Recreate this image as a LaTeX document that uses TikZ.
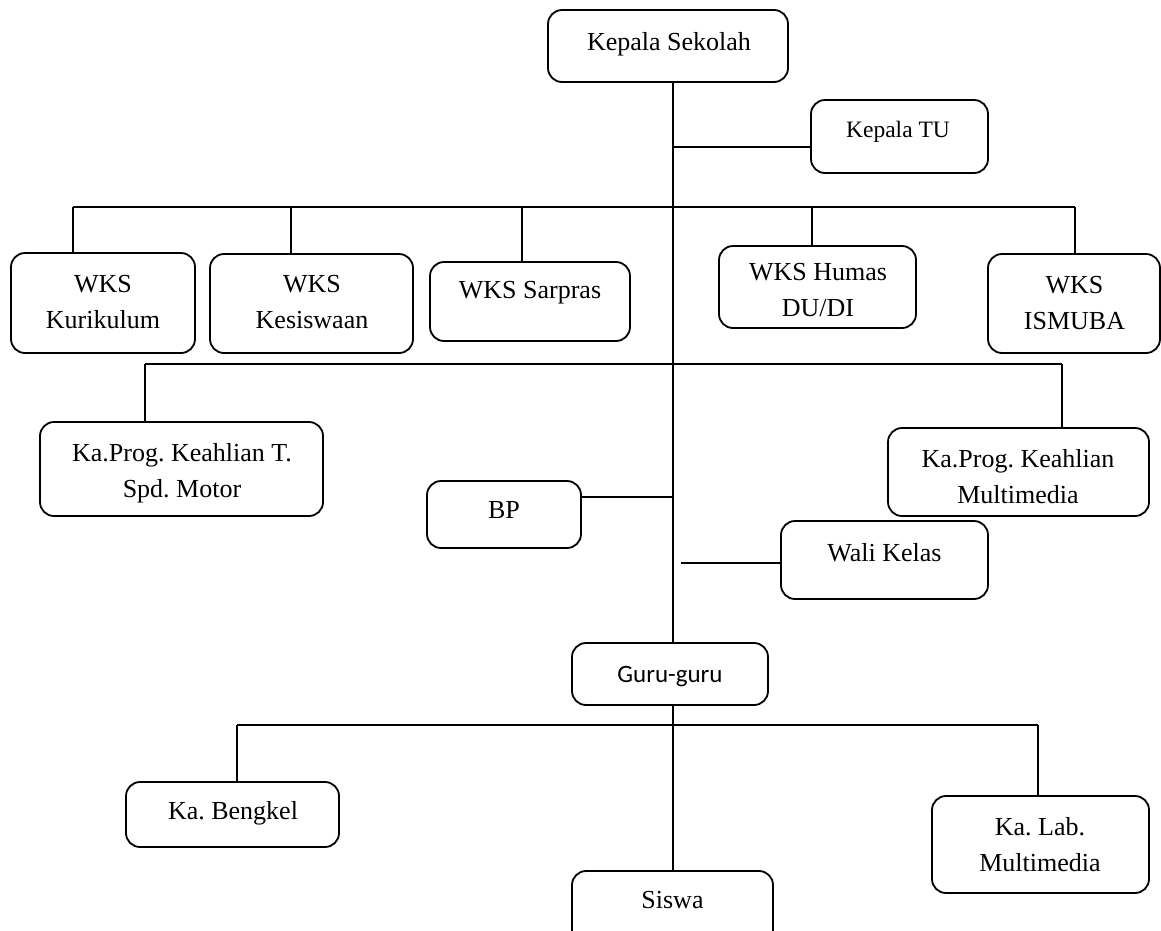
\documentclass[tikz,border=0pt]{standalone}
\usepackage{fontspec}
\setmainfont{Liberation Serif}
\newfontfamily\carlitofont{Carlito}
\frenchspacing
\begin{document}
\begin{tikzpicture}[x=1pt,y=-1pt,
  box/.style={draw, rounded corners=14pt, line width=1.8pt, inner sep=0pt},
  txt/.style={align=center, inner sep=0pt, font=\frenchspacing\fontsize{26}{36}\selectfont},
  smalltxt/.style={align=center, inner sep=0pt, font=\fontsize{23.5}{30}\selectfont},
  sanstxt/.style={align=center, inner sep=0pt, font=\carlitofont\fontsize{25}{30}\selectfont},
  conn/.style={line width=1.8pt}]
\useasboundingbox (0,0) rectangle (1161,930);
\clip (0,0) rectangle (1161,930);
% boxes
\node[box, minimum width=240pt, minimum height=72pt] (ks) at (668,46) {};
\node[box, minimum width=177pt, minimum height=73pt] (tu) at (899.5,136.5) {};
\node[box, minimum width=184pt, minimum height=100pt] (kur) at (103,303) {};
\node[box, minimum width=203pt, minimum height=99pt] (kes) at (311.5,303.5) {};
\node[box, minimum width=200pt, minimum height=79pt] (sar) at (530,301.5) {};
\node[box, minimum width=197pt, minimum height=82pt] (hum) at (817.5,287) {};
\node[box, minimum width=172pt, minimum height=99pt] (ism) at (1074,303.5) {};
\node[box, minimum width=283pt, minimum height=94pt] (kpm) at (181.5,469) {};
\node[box, minimum width=154pt, minimum height=67pt] (bp) at (504,514.5) {};
\node[box, minimum width=261pt, minimum height=88pt] (kmm) at (1018.5,472) {};
\node[box, minimum width=207pt, minimum height=78pt] (wk) at (884.5,560) {};
\node[box, minimum width=196pt, minimum height=62pt] (gg) at (670,674) {};
\node[box, minimum width=213pt, minimum height=65pt] (kb) at (232.5,814.5) {};
\node[box, minimum width=201pt, minimum height=89pt] (sis) at (672.5,915.5) {};
\node[box, minimum width=217pt, minimum height=97pt] (kl) at (1040.5,844.5) {};
% texts
\node[txt] (ks-t) at (669,44) {Kepala Sekolah};
\node[smalltxt] (tu-t) at (898,132) {Kepala TU};
\node[txt] (kur-t) at (103,302) {WKS\\Kurikulum};
\node[txt] (kes-t) at (312,302) {WKS\\Kesiswaan};
\node[txt] (sar-t) at (530,292.5) {WKS Sarpras};
\node[txt] (hum-t) at (818,290) {WKS Humas\\DU/DI};
\node[txt] (ism-t) at (1074.5,303.5) {WKS\\ISMUBA};
\node[txt] (kpm-t) at (182,473) {Ka.Prog. Keahlian T.\\Spd. Motor};
\node[txt] (bp-t) at (504,510) {BP};
\node[txt] (kmm-t) at (1018,477) {Ka.Prog. Keahlian\\Multimedia};
\node[txt] (wk-t) at (884.5,553) {Wali Kelas};
\node[sanstxt] (gg-t) at (670,677) {Guru-guru};
\node[txt] (kb-t) at (233,813.5) {Ka. Bengkel};
\node[txt] (sis-t) at (672.5,900) {Siswa};
\node[txt] (kl-t) at (1040,844.5) {Ka. Lab.\\Multimedia};
% junction coordinates
\coordinate (T) at (673,0);
\coordinate (b1l) at (73,207);
\coordinate (b1r) at (1075,207);
\coordinate (b2l) at (145,364);
\coordinate (b2r) at (1062,364);
\coordinate (b3l) at (237,725);
\coordinate (b3r) at (1038,725);
\coordinate (jtu) at (673,147);
\coordinate (jbp) at (673,497);
\coordinate (jwk) at (681,563);
% connectors
\draw[conn] (ks.south -| T) -- (gg.north -| T);
\draw[conn] (gg.south -| T) -- (sis.north -| T);
\draw[conn] (jtu) -- (jtu -| tu.west);
\draw[conn] (b1l) -- (b1r);
\draw[conn] (b1l) -- (kur.north -| b1l);
\draw[conn] (291,207) -- (kes.north -| 291,0);
\draw[conn] (522,207) -- (sar.north -| 522,0);
\draw[conn] (812,207) -- (hum.north -| 812,0);
\draw[conn] (b1r) -- (ism.north -| b1r);
\draw[conn] (b2l) -- (b2r);
\draw[conn] (b2l) -- (kpm.north -| b2l);
\draw[conn] (b2r) -- (kmm.north -| b2r);
\draw[conn] (bp.east |- jbp) -- (jbp);
\draw[conn] (jwk) -- (wk.west |- jwk);
\draw[conn] (b3l) -- (b3r);
\draw[conn] (b3l) -- (kb.north -| b3l);
\draw[conn] (b3r) -- (kl.north -| b3r);
\end{tikzpicture}
\end{document}
